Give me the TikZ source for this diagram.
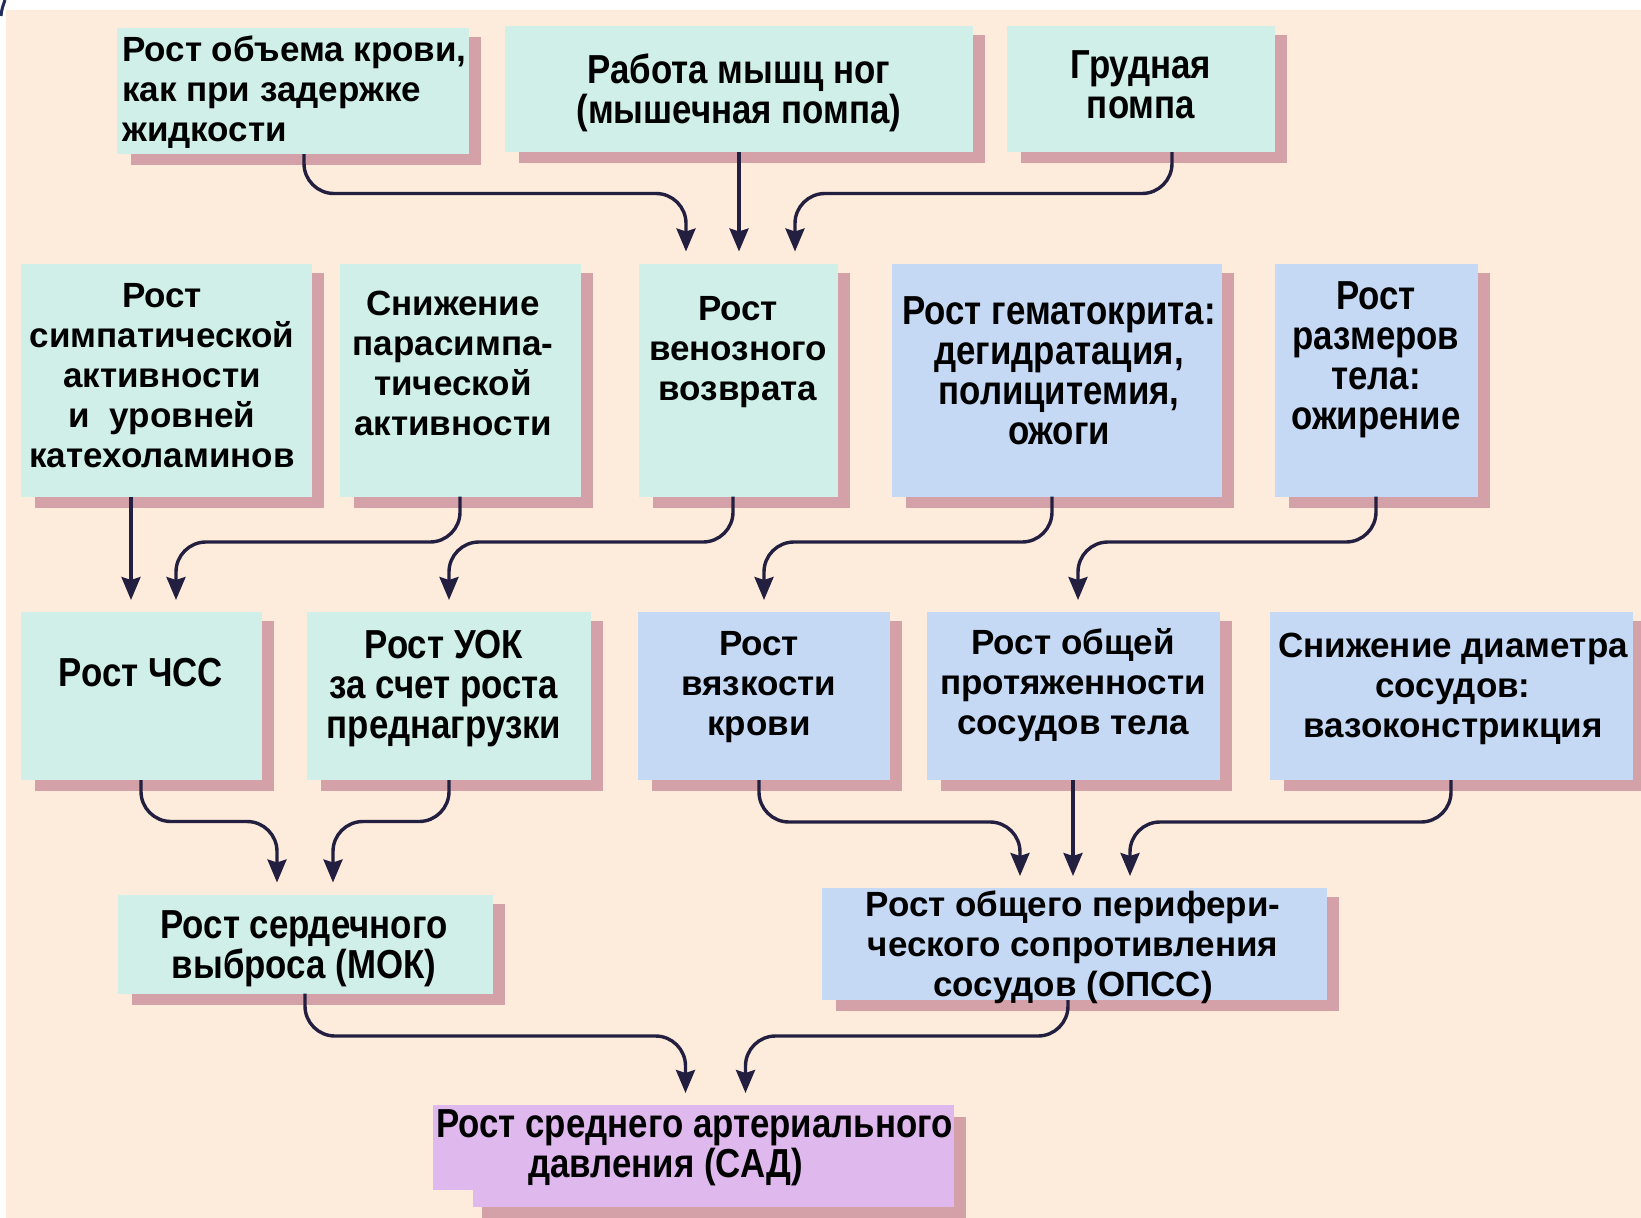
\documentclass[tikz,border=0pt]{standalone}
\usepackage{fontspec}
\setmainfont{Liberation Sans}
\newfontfamily\narf{Liberation Sans}[FakeStretch=0.86]
\usetikzlibrary{arrows.meta,calc}
\pgfdeclarelayer{back}
\pgfdeclarelayer{shade}
\pgfsetlayers{back,shade,main}
\definecolor{bgc}{HTML}{FDEBDC}
\definecolor{tealc}{HTML}{D0EFE8}
\definecolor{bluec}{HTML}{C5D9F5}
\definecolor{shadc}{HTML}{D3A1A7}
\definecolor{violc}{HTML}{DFB8EE}
\definecolor{arrc}{HTML}{231F40}
\definecolor{cornc}{HTML}{1F2D5C}
\begin{document}
\begin{tikzpicture}[x=1pt,y=-1pt,
  box/.style={rectangle, inner sep=0pt, outer sep=0pt, draw=none},
  tb/.style={box, fill=tealc},
  bb/.style={box, fill=bluec},
  vb/.style={box, fill=violc},
  txt/.style={align=center, inner sep=0pt, text=black, font=\fontsize{35}{40}\selectfont\bfseries},
  ntxt/.style={align=center, inner sep=0pt, text=black, font=\fontsize{40.5}{40}\selectfont\narf\bfseries},
  arr/.style={draw=arrc, line width=3.4pt, rounded corners=30pt, shorten >=12pt, -{Stealth[length=23pt,width=19pt,inset=3pt,fill=arrc]}},
]
\useasboundingbox (0,0) rectangle (1641,1218);
\begin{pgfonlayer}{back}
  \fill[white] (0,0) rectangle (1641,1218);
  \fill[bgc] (6,10) rectangle (1641,1218);
  \draw[cornc, line width=3pt] (5,0) to[out=-110,in=85] (1,16);
\end{pgfonlayer}

% row 1
\node[tb, minimum width=352, minimum height=126] (b1) at (293,91) {};
\node[tb, minimum width=468, minimum height=126] (b2) at (739,89) {};
\node[tb, minimum width=268, minimum height=126] (b3) at (1141,89) {};
% row 2
\node[tb, minimum width=291, minimum height=233] (c1) at (166,380) {};
\node[tb, minimum width=241, minimum height=233] (c2) at (460,380) {};
\node[tb, minimum width=199, minimum height=233] (c3) at (738,380) {};
\node[bb, minimum width=330, minimum height=233] (c4) at (1057,380) {};
\node[bb, minimum width=203, minimum height=233] (c5) at (1376,380) {};
% row 3
\node[tb, minimum width=241, minimum height=168] (d1) at (141,696) {};
\node[tb, minimum width=284, minimum height=168] (d2) at (449,696) {};
\node[bb, minimum width=252, minimum height=168] (d3) at (764,696) {};
\node[bb, minimum width=293, minimum height=168] (d4) at (1073,696) {};
\node[bb, minimum width=363, minimum height=168] (d5) at (1451,696) {};
% row 4
\node[tb, minimum width=375, minimum height=99] (e1) at (305,944) {};
\node[bb, minimum width=505, minimum height=112] (e2) at (1074,944) {};
% row 5
\node[vb, minimum width=521, minimum height=85] (f) at (693.5,1147.5) {};

% shadows
\begin{pgfonlayer}{shade}
  \foreach \n in {b1,b2,b3,c1,c2,c3,c4,c5,d1,d2,d3,d4,d5,e1,e2}
    \fill[shadc] ($(\n.south west)+(14,11)$) rectangle ($(\n.north east)+(12,9)$);
  \fill[shadc] (482,1117) rectangle (966,1218);
  \fill[violc] (473,1105) rectangle (954,1207);
\end{pgfonlayer}

% texts
\node[txt, align=left, anchor=west] (tb1) at (122,92) {Рост объема крови,\\как при задержке\\жидкости};
\node[ntxt] (tb2) at (739,93) {Работа мышц ног\\(мышечная помпа)};
\node[ntxt] (tb3) at (1141,85) {Грудная\\помпа};
\node[txt] (tc1) at (162,376) {Рост\\симпатической\\активности\\и\ \ уровней\\катехоламинов};
\node[txt] (tc2) at (453,363) {Снижение\\парасимпа-\\тической\\активности};
\node[txt] (tc3) at (738,352) {Рост\\венозного\\возврата};
\node[ntxt] (tc4) at (1059,371) {Рост гематокрита:\\дегидратация,\\полицитемия,\\ожоги};
\node[ntxt] (tc5) at (1376,360) {Рост\\размеров\\тела:\\ожирение};
\node[ntxt] (td1) at (141,673) {Рост ЧСС};
\node[ntxt] (td2) at (444,689) {Рост УОК\\за счет роста\\преднагрузки};
\node[txt] (td3) at (759,687) {Рост\\вязкости\\крови};
\node[txt] (td4) at (1073,685) {Рост общей\\протяженности\\сосудов тела};
\node[txt] (td5) at (1453,689) {Снижение диаметра\\сосудов:\\вазоконстрикция};
\node[ntxt] (te1) at (304,949) {Рост сердечного\\выброса (МОК)};
\node[txt] (te2) at (1073,947) {Рост общего перифери-\\ческого сопротивления\\сосудов (ОПСС)};
\node[ntxt, align=left, anchor=west] (tf) at (436,1148) {Рост среднего артериального\\\hspace*{92pt}давления (САД)};

% arrows row 1 -> 2
\draw[arr] ([xshift=11pt]b1.south) |- ([xshift=-52pt,yshift=70pt]c3.north) -- ([xshift=-52pt]c3.north);
\draw[arr] (b2.south) -- (b2.south |- c3.north);
\draw[arr] ([xshift=31pt]b3.south) |- ([xshift=57pt,yshift=70pt]c3.north) -- ([xshift=57pt]c3.north);
% row 2 -> 3
\draw[arr] ([xshift=-35pt]c1.south) -- ([xshift=-35pt]c1.south |- d1.north);
\draw[arr] (c2.south) |- ([xshift=35pt,yshift=70pt]d1.north) -- ([xshift=35pt]d1.north);
\draw[arr] ([xshift=-5pt]c3.south) |- ([yshift=70pt]d2.north) -- (d2.north);
\draw[arr] ([xshift=-5pt]c4.south) |- ([yshift=70pt]d3.north) -- (d3.north);
\draw[arr] (c5.south) |- ([xshift=5pt,yshift=70pt]d4.north) -- ([xshift=5pt]d4.north);
% row 3 -> 4
\draw[arr] (d1.south) |- ([xshift=-28pt,yshift=73pt]e1.north) -- ([xshift=-28pt]e1.north);
\draw[arr] (d2.south) |- ([xshift=28pt,yshift=73pt]e1.north) -- ([xshift=28pt]e1.north);
\draw[arr] ([xshift=-5pt]d3.south) |- ([xshift=-54pt,yshift=66pt]e2.north) -- ([xshift=-54pt]e2.north);
\draw[arr] (d4.south) -- (d4.south |- e2.north);
\draw[arr] (d5.south) |- ([xshift=56pt,yshift=66pt]e2.north) -- ([xshift=56pt]e2.north);
% row 4 -> 5
\draw[arr] (e1.south) |- ([xshift=-8pt,yshift=69pt]f.north) -- ([xshift=-8pt]f.north);
\draw[arr] ([xshift=-6pt]e2.south) |- ([xshift=52pt,yshift=69pt]f.north) -- ([xshift=52pt]f.north);
\end{tikzpicture}
\end{document}
